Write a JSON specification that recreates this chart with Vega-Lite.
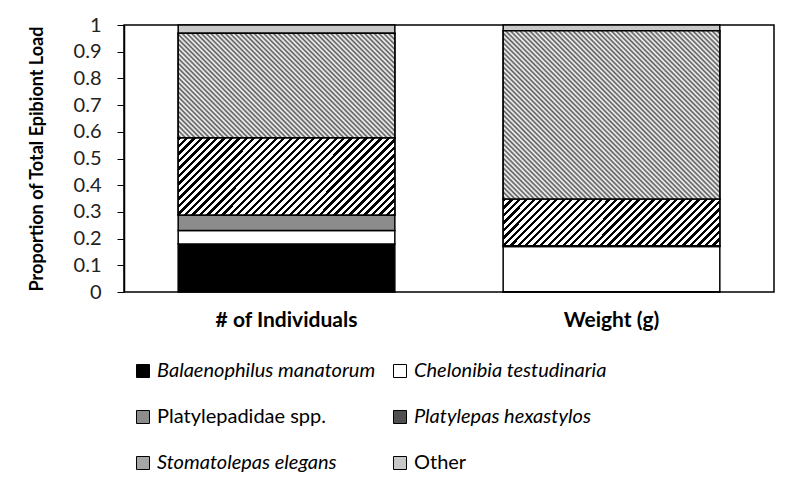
{
  "$schema": "https://vega.github.io/schema/vega-lite/v6.json",
  "width": 650,
  "height": 267,
  "autosize": {"type": "none"},
  "padding": {"left": 124, "top": 25, "right": 26, "bottom": 197},
  "background": "white",
  "config": {"view": {"stroke": "#000", "strokeWidth": 1.5}, "font": "Lato"},
  "data": {
    "values": [
      {"measure": "# of Individuals", "taxon": "Balaenophilus manatorum", "ord": 1, "proportion": 0.18},
      {"measure": "# of Individuals", "taxon": "Chelonibia testudinaria", "ord": 2, "proportion": 0.05},
      {"measure": "# of Individuals", "taxon": "Platylepadidae spp.", "ord": 3, "proportion": 0.058},
      {"measure": "# of Individuals", "taxon": "Platylepas hexastylos", "ord": 4, "proportion": 0.29},
      {"measure": "# of Individuals", "taxon": "Stomatolepas elegans", "ord": 5, "proportion": 0.391},
      {"measure": "# of Individuals", "taxon": "Other", "ord": 6, "proportion": 0.031},
      {"measure": "Weight (g)", "taxon": "Balaenophilus manatorum", "ord": 1, "proportion": 0.001},
      {"measure": "Weight (g)", "taxon": "Chelonibia testudinaria", "ord": 2, "proportion": 0.169},
      {"measure": "Weight (g)", "taxon": "Platylepadidae spp.", "ord": 3, "proportion": 0.003},
      {"measure": "Weight (g)", "taxon": "Platylepas hexastylos", "ord": 4, "proportion": 0.175},
      {"measure": "Weight (g)", "taxon": "Stomatolepas elegans", "ord": 5, "proportion": 0.63},
      {"measure": "Weight (g)", "taxon": "Other", "ord": 6, "proportion": 0.022}
    ]
  },
  "transform": [
    {"stack": "proportion", "groupby": ["measure"], "sort": [{"field": "ord", "order": "ascending"}], "as": ["lo", "hi"]}
  ],
  "encoding": {
    "x": {
      "field": "measure",
      "type": "nominal",
      "sort": ["# of Individuals", "Weight (g)"],
      "scale": {"paddingInner": 0.3333, "paddingOuter": 0.1667},
      "axis": {
        "title": null,
        "labelAngle": 0,
        "labelFontWeight": "bold",
        "labelFontSize": 21,
        "labelColor": "#000",
        "ticks": false,
        "domain": false,
        "labelPadding": 17
      }
    },
    "y": {
      "field": "lo",
      "type": "quantitative",
      "scale": {"domain": [0, 1], "nice": false},
      "axis": {
        "title": "Proportion of Total Epibiont Load",
        "titleFontSize": 18,
        "titleFontWeight": "bold",
        "titleColor": "#000",
        "titlePadding": 27,
        "values": [0, 0.1, 0.2, 0.3, 0.4, 0.5, 0.6, 0.7, 0.8, 0.9, 1],
        "format": ".1~f",
        "labelOverlap": false,
        "grid": false,
        "tickSize": 7,
        "tickColor": "#000",
        "tickWidth": 1,
        "domainColor": "#000",
        "domainWidth": 1.5,
        "labelFontSize": 20,
        "labelFontWeight": "normal",
        "labelColor": "#222",
        "labelPadding": 16
      }
    },
    "y2": {"field": "hi"}
  },
  "layer": [
    {
      "mark": {"type": "bar", "stroke": "#000", "strokeWidth": 1.5},
      "encoding": {
        "color": {
          "field": "taxon",
          "type": "nominal",
          "scale": {
            "domain": ["Balaenophilus manatorum", "Chelonibia testudinaria", "Platylepadidae spp.", "Platylepas hexastylos", "Stomatolepas elegans", "Other"],
            "range": ["#000000", "#ffffff", "#8c8c8c", "#505050", "#a6a6a6", "#c8c8c8"]
          },
          "legend": {
            "orient": "none",
            "legendX": 9,
            "legendY": 336,
            "title": null,
            "columns": 2,
            "direction": "horizontal",
            "labelFontSize": 20,
            "labelColor": "#000",
            "labelLimit": 400,
            "labelOffset": 4,
            "symbolType": "square",
            "symbolSize": 169,
            "symbolStrokeColor": "#000",
            "symbolStrokeWidth": 1,
            "symbolOpacity": 1,
            "rowPadding": 26,
            "columnPadding": 14,
            "encode": {
              "labels": {
                "update": {
                  "fontStyle": {"signal": "datum.value == 'Platylepadidae spp.' || datum.value == 'Other' ? 'normal' : 'italic'"}
                }
              }
            }
          }
        }
      }
    },
    {
      "transform": [{"filter": "datum.taxon == 'Platylepas hexastylos'"}],
      "mark": {"type": "bar", "stroke": "#000", "strokeWidth": 1.5},
      "encoding": {
        "fill": {
          "condition": {
            "test": "datum.measure == 'Weight (g)'",
            "value": {"gradient": "linear", "x1": 0, "y1": 0, "x2": 1.3202, "y2": 0.2841, "stops": [
              {"offset":0,"color":"#000"},{"offset":0.011,"color":"#000"},{"offset":0.011,"color":"#fff"},{"offset":0.025,"color":"#fff"},
              {"offset":0.025,"color":"#000"},{"offset":0.036,"color":"#000"},{"offset":0.036,"color":"#fff"},{"offset":0.05,"color":"#fff"},
              {"offset":0.05,"color":"#000"},{"offset":0.061,"color":"#000"},{"offset":0.061,"color":"#fff"},{"offset":0.075,"color":"#fff"},
              {"offset":0.075,"color":"#000"},{"offset":0.086,"color":"#000"},{"offset":0.086,"color":"#fff"},{"offset":0.1,"color":"#fff"},
              {"offset":0.1,"color":"#000"},{"offset":0.111,"color":"#000"},{"offset":0.111,"color":"#fff"},{"offset":0.125,"color":"#fff"},
              {"offset":0.125,"color":"#000"},{"offset":0.136,"color":"#000"},{"offset":0.136,"color":"#fff"},{"offset":0.15,"color":"#fff"},
              {"offset":0.15,"color":"#000"},{"offset":0.161,"color":"#000"},{"offset":0.161,"color":"#fff"},{"offset":0.175,"color":"#fff"},
              {"offset":0.175,"color":"#000"},{"offset":0.186,"color":"#000"},{"offset":0.186,"color":"#fff"},{"offset":0.2,"color":"#fff"},
              {"offset":0.2,"color":"#000"},{"offset":0.211,"color":"#000"},{"offset":0.211,"color":"#fff"},{"offset":0.225,"color":"#fff"},
              {"offset":0.225,"color":"#000"},{"offset":0.236,"color":"#000"},{"offset":0.236,"color":"#fff"},{"offset":0.25,"color":"#fff"},
              {"offset":0.25,"color":"#000"},{"offset":0.261,"color":"#000"},{"offset":0.261,"color":"#fff"},{"offset":0.275,"color":"#fff"},
              {"offset":0.275,"color":"#000"},{"offset":0.286,"color":"#000"},{"offset":0.286,"color":"#fff"},{"offset":0.3,"color":"#fff"},
              {"offset":0.3,"color":"#000"},{"offset":0.311,"color":"#000"},{"offset":0.311,"color":"#fff"},{"offset":0.325,"color":"#fff"},
              {"offset":0.325,"color":"#000"},{"offset":0.336,"color":"#000"},{"offset":0.336,"color":"#fff"},{"offset":0.35,"color":"#fff"},
              {"offset":0.35,"color":"#000"},{"offset":0.361,"color":"#000"},{"offset":0.361,"color":"#fff"},{"offset":0.375,"color":"#fff"},
              {"offset":0.375,"color":"#000"},{"offset":0.386,"color":"#000"},{"offset":0.386,"color":"#fff"},{"offset":0.4,"color":"#fff"},
              {"offset":0.4,"color":"#000"},{"offset":0.411,"color":"#000"},{"offset":0.411,"color":"#fff"},{"offset":0.425,"color":"#fff"},
              {"offset":0.425,"color":"#000"},{"offset":0.436,"color":"#000"},{"offset":0.436,"color":"#fff"},{"offset":0.45,"color":"#fff"},
              {"offset":0.45,"color":"#000"},{"offset":0.461,"color":"#000"},{"offset":0.461,"color":"#fff"},{"offset":0.475,"color":"#fff"},
              {"offset":0.475,"color":"#000"},{"offset":0.486,"color":"#000"},{"offset":0.486,"color":"#fff"},{"offset":0.5,"color":"#fff"},
              {"offset":0.5,"color":"#000"},{"offset":0.511,"color":"#000"},{"offset":0.511,"color":"#fff"},{"offset":0.525,"color":"#fff"},
              {"offset":0.525,"color":"#000"},{"offset":0.536,"color":"#000"},{"offset":0.536,"color":"#fff"},{"offset":0.55,"color":"#fff"},
              {"offset":0.55,"color":"#000"},{"offset":0.561,"color":"#000"},{"offset":0.561,"color":"#fff"},{"offset":0.575,"color":"#fff"},
              {"offset":0.575,"color":"#000"},{"offset":0.586,"color":"#000"},{"offset":0.586,"color":"#fff"},{"offset":0.6,"color":"#fff"},
              {"offset":0.6,"color":"#000"},{"offset":0.611,"color":"#000"},{"offset":0.611,"color":"#fff"},{"offset":0.625,"color":"#fff"},
              {"offset":0.625,"color":"#000"},{"offset":0.636,"color":"#000"},{"offset":0.636,"color":"#fff"},{"offset":0.65,"color":"#fff"},
              {"offset":0.65,"color":"#000"},{"offset":0.661,"color":"#000"},{"offset":0.661,"color":"#fff"},{"offset":0.675,"color":"#fff"},
              {"offset":0.675,"color":"#000"},{"offset":0.686,"color":"#000"},{"offset":0.686,"color":"#fff"},{"offset":0.7,"color":"#fff"},
              {"offset":0.7,"color":"#000"},{"offset":0.711,"color":"#000"},{"offset":0.711,"color":"#fff"},{"offset":0.725,"color":"#fff"},
              {"offset":0.725,"color":"#000"},{"offset":0.736,"color":"#000"},{"offset":0.736,"color":"#fff"},{"offset":0.75,"color":"#fff"},
              {"offset":0.75,"color":"#000"},{"offset":0.761,"color":"#000"},{"offset":0.761,"color":"#fff"},{"offset":0.775,"color":"#fff"},
              {"offset":0.775,"color":"#000"},{"offset":0.786,"color":"#000"},{"offset":0.786,"color":"#fff"},{"offset":0.8,"color":"#fff"},
              {"offset":0.8,"color":"#000"},{"offset":0.811,"color":"#000"},{"offset":0.811,"color":"#fff"},{"offset":0.825,"color":"#fff"},
              {"offset":0.825,"color":"#000"},{"offset":0.836,"color":"#000"},{"offset":0.836,"color":"#fff"},{"offset":0.85,"color":"#fff"},
              {"offset":0.85,"color":"#000"},{"offset":0.861,"color":"#000"},{"offset":0.861,"color":"#fff"},{"offset":0.875,"color":"#fff"},
              {"offset":0.875,"color":"#000"},{"offset":0.886,"color":"#000"},{"offset":0.886,"color":"#fff"},{"offset":0.9,"color":"#fff"},
              {"offset":0.9,"color":"#000"},{"offset":0.911,"color":"#000"},{"offset":0.911,"color":"#fff"},{"offset":0.925,"color":"#fff"},
              {"offset":0.925,"color":"#000"},{"offset":0.936,"color":"#000"},{"offset":0.936,"color":"#fff"},{"offset":0.95,"color":"#fff"},
              {"offset":0.95,"color":"#000"},{"offset":0.961,"color":"#000"},{"offset":0.961,"color":"#fff"},{"offset":0.975,"color":"#fff"},
              {"offset":0.975,"color":"#000"},{"offset":0.986,"color":"#000"},{"offset":0.986,"color":"#fff"},{"offset":1,"color":"#fff"}
            ]}
          },
          "value": {"gradient": "linear", "x1": 0, "y1": 0, "x2": 1.2256, "y2": 0.4372, "stops": [
              {"offset":0,"color":"#000"},{"offset":0.011,"color":"#000"},{"offset":0.011,"color":"#fff"},{"offset":0.025,"color":"#fff"},
              {"offset":0.025,"color":"#000"},{"offset":0.036,"color":"#000"},{"offset":0.036,"color":"#fff"},{"offset":0.05,"color":"#fff"},
              {"offset":0.05,"color":"#000"},{"offset":0.061,"color":"#000"},{"offset":0.061,"color":"#fff"},{"offset":0.075,"color":"#fff"},
              {"offset":0.075,"color":"#000"},{"offset":0.086,"color":"#000"},{"offset":0.086,"color":"#fff"},{"offset":0.1,"color":"#fff"},
              {"offset":0.1,"color":"#000"},{"offset":0.111,"color":"#000"},{"offset":0.111,"color":"#fff"},{"offset":0.125,"color":"#fff"},
              {"offset":0.125,"color":"#000"},{"offset":0.136,"color":"#000"},{"offset":0.136,"color":"#fff"},{"offset":0.15,"color":"#fff"},
              {"offset":0.15,"color":"#000"},{"offset":0.161,"color":"#000"},{"offset":0.161,"color":"#fff"},{"offset":0.175,"color":"#fff"},
              {"offset":0.175,"color":"#000"},{"offset":0.186,"color":"#000"},{"offset":0.186,"color":"#fff"},{"offset":0.2,"color":"#fff"},
              {"offset":0.2,"color":"#000"},{"offset":0.211,"color":"#000"},{"offset":0.211,"color":"#fff"},{"offset":0.225,"color":"#fff"},
              {"offset":0.225,"color":"#000"},{"offset":0.236,"color":"#000"},{"offset":0.236,"color":"#fff"},{"offset":0.25,"color":"#fff"},
              {"offset":0.25,"color":"#000"},{"offset":0.261,"color":"#000"},{"offset":0.261,"color":"#fff"},{"offset":0.275,"color":"#fff"},
              {"offset":0.275,"color":"#000"},{"offset":0.286,"color":"#000"},{"offset":0.286,"color":"#fff"},{"offset":0.3,"color":"#fff"},
              {"offset":0.3,"color":"#000"},{"offset":0.311,"color":"#000"},{"offset":0.311,"color":"#fff"},{"offset":0.325,"color":"#fff"},
              {"offset":0.325,"color":"#000"},{"offset":0.336,"color":"#000"},{"offset":0.336,"color":"#fff"},{"offset":0.35,"color":"#fff"},
              {"offset":0.35,"color":"#000"},{"offset":0.361,"color":"#000"},{"offset":0.361,"color":"#fff"},{"offset":0.375,"color":"#fff"},
              {"offset":0.375,"color":"#000"},{"offset":0.386,"color":"#000"},{"offset":0.386,"color":"#fff"},{"offset":0.4,"color":"#fff"},
              {"offset":0.4,"color":"#000"},{"offset":0.411,"color":"#000"},{"offset":0.411,"color":"#fff"},{"offset":0.425,"color":"#fff"},
              {"offset":0.425,"color":"#000"},{"offset":0.436,"color":"#000"},{"offset":0.436,"color":"#fff"},{"offset":0.45,"color":"#fff"},
              {"offset":0.45,"color":"#000"},{"offset":0.461,"color":"#000"},{"offset":0.461,"color":"#fff"},{"offset":0.475,"color":"#fff"},
              {"offset":0.475,"color":"#000"},{"offset":0.486,"color":"#000"},{"offset":0.486,"color":"#fff"},{"offset":0.5,"color":"#fff"},
              {"offset":0.5,"color":"#000"},{"offset":0.511,"color":"#000"},{"offset":0.511,"color":"#fff"},{"offset":0.525,"color":"#fff"},
              {"offset":0.525,"color":"#000"},{"offset":0.536,"color":"#000"},{"offset":0.536,"color":"#fff"},{"offset":0.55,"color":"#fff"},
              {"offset":0.55,"color":"#000"},{"offset":0.561,"color":"#000"},{"offset":0.561,"color":"#fff"},{"offset":0.575,"color":"#fff"},
              {"offset":0.575,"color":"#000"},{"offset":0.586,"color":"#000"},{"offset":0.586,"color":"#fff"},{"offset":0.6,"color":"#fff"},
              {"offset":0.6,"color":"#000"},{"offset":0.611,"color":"#000"},{"offset":0.611,"color":"#fff"},{"offset":0.625,"color":"#fff"},
              {"offset":0.625,"color":"#000"},{"offset":0.636,"color":"#000"},{"offset":0.636,"color":"#fff"},{"offset":0.65,"color":"#fff"},
              {"offset":0.65,"color":"#000"},{"offset":0.661,"color":"#000"},{"offset":0.661,"color":"#fff"},{"offset":0.675,"color":"#fff"},
              {"offset":0.675,"color":"#000"},{"offset":0.686,"color":"#000"},{"offset":0.686,"color":"#fff"},{"offset":0.7,"color":"#fff"},
              {"offset":0.7,"color":"#000"},{"offset":0.711,"color":"#000"},{"offset":0.711,"color":"#fff"},{"offset":0.725,"color":"#fff"},
              {"offset":0.725,"color":"#000"},{"offset":0.736,"color":"#000"},{"offset":0.736,"color":"#fff"},{"offset":0.75,"color":"#fff"},
              {"offset":0.75,"color":"#000"},{"offset":0.761,"color":"#000"},{"offset":0.761,"color":"#fff"},{"offset":0.775,"color":"#fff"},
              {"offset":0.775,"color":"#000"},{"offset":0.786,"color":"#000"},{"offset":0.786,"color":"#fff"},{"offset":0.8,"color":"#fff"},
              {"offset":0.8,"color":"#000"},{"offset":0.811,"color":"#000"},{"offset":0.811,"color":"#fff"},{"offset":0.825,"color":"#fff"},
              {"offset":0.825,"color":"#000"},{"offset":0.836,"color":"#000"},{"offset":0.836,"color":"#fff"},{"offset":0.85,"color":"#fff"},
              {"offset":0.85,"color":"#000"},{"offset":0.861,"color":"#000"},{"offset":0.861,"color":"#fff"},{"offset":0.875,"color":"#fff"},
              {"offset":0.875,"color":"#000"},{"offset":0.886,"color":"#000"},{"offset":0.886,"color":"#fff"},{"offset":0.9,"color":"#fff"},
              {"offset":0.9,"color":"#000"},{"offset":0.911,"color":"#000"},{"offset":0.911,"color":"#fff"},{"offset":0.925,"color":"#fff"},
              {"offset":0.925,"color":"#000"},{"offset":0.936,"color":"#000"},{"offset":0.936,"color":"#fff"},{"offset":0.95,"color":"#fff"},
              {"offset":0.95,"color":"#000"},{"offset":0.961,"color":"#000"},{"offset":0.961,"color":"#fff"},{"offset":0.975,"color":"#fff"},
              {"offset":0.975,"color":"#000"},{"offset":0.986,"color":"#000"},{"offset":0.986,"color":"#fff"},{"offset":1,"color":"#fff"}
          ]}
        }
      }
    },
    {
      "transform": [{"filter": "datum.taxon == 'Stomatolepas elegans'"}],
      "mark": {"type": "bar", "stroke": "#000", "strokeWidth": 1.5},
      "encoding": {
        "fill": {
          "condition": {
            "test": "datum.measure == 'Weight (g)'",
            "value": {"gradient": "linear", "x1": 0, "y1": 1, "x2": 1.1074, "y2": 0.1417, "stops": [
              {"offset":0,"color":"#fff"},{"offset":0.00625,"color":"#555"},{"offset":0.0125,"color":"#fff"},{"offset":0.01875,"color":"#555"},{"offset":0.025,"color":"#fff"},{"offset":0.03125,"color":"#555"},{"offset":0.0375,"color":"#fff"},{"offset":0.04375,"color":"#555"},
              {"offset":0.05,"color":"#fff"},{"offset":0.05625,"color":"#555"},{"offset":0.0625,"color":"#fff"},{"offset":0.06875,"color":"#555"},{"offset":0.075,"color":"#fff"},{"offset":0.08125,"color":"#555"},{"offset":0.0875,"color":"#fff"},{"offset":0.09375,"color":"#555"},
              {"offset":0.1,"color":"#fff"},{"offset":0.10625,"color":"#555"},{"offset":0.1125,"color":"#fff"},{"offset":0.11875,"color":"#555"},{"offset":0.125,"color":"#fff"},{"offset":0.13125,"color":"#555"},{"offset":0.1375,"color":"#fff"},{"offset":0.14375,"color":"#555"},
              {"offset":0.15,"color":"#fff"},{"offset":0.15625,"color":"#555"},{"offset":0.1625,"color":"#fff"},{"offset":0.16875,"color":"#555"},{"offset":0.175,"color":"#fff"},{"offset":0.18125,"color":"#555"},{"offset":0.1875,"color":"#fff"},{"offset":0.19375,"color":"#555"},
              {"offset":0.2,"color":"#fff"},{"offset":0.20625,"color":"#555"},{"offset":0.2125,"color":"#fff"},{"offset":0.21875,"color":"#555"},{"offset":0.225,"color":"#fff"},{"offset":0.23125,"color":"#555"},{"offset":0.2375,"color":"#fff"},{"offset":0.24375,"color":"#555"},
              {"offset":0.25,"color":"#fff"},{"offset":0.25625,"color":"#555"},{"offset":0.2625,"color":"#fff"},{"offset":0.26875,"color":"#555"},{"offset":0.275,"color":"#fff"},{"offset":0.28125,"color":"#555"},{"offset":0.2875,"color":"#fff"},{"offset":0.29375,"color":"#555"},
              {"offset":0.3,"color":"#fff"},{"offset":0.30625,"color":"#555"},{"offset":0.3125,"color":"#fff"},{"offset":0.31875,"color":"#555"},{"offset":0.325,"color":"#fff"},{"offset":0.33125,"color":"#555"},{"offset":0.3375,"color":"#fff"},{"offset":0.34375,"color":"#555"},
              {"offset":0.35,"color":"#fff"},{"offset":0.35625,"color":"#555"},{"offset":0.3625,"color":"#fff"},{"offset":0.36875,"color":"#555"},{"offset":0.375,"color":"#fff"},{"offset":0.38125,"color":"#555"},{"offset":0.3875,"color":"#fff"},{"offset":0.39375,"color":"#555"},
              {"offset":0.4,"color":"#fff"},{"offset":0.40625,"color":"#555"},{"offset":0.4125,"color":"#fff"},{"offset":0.41875,"color":"#555"},{"offset":0.425,"color":"#fff"},{"offset":0.43125,"color":"#555"},{"offset":0.4375,"color":"#fff"},{"offset":0.44375,"color":"#555"},
              {"offset":0.45,"color":"#fff"},{"offset":0.45625,"color":"#555"},{"offset":0.4625,"color":"#fff"},{"offset":0.46875,"color":"#555"},{"offset":0.475,"color":"#fff"},{"offset":0.48125,"color":"#555"},{"offset":0.4875,"color":"#fff"},{"offset":0.49375,"color":"#555"},
              {"offset":0.5,"color":"#fff"},{"offset":0.50625,"color":"#555"},{"offset":0.5125,"color":"#fff"},{"offset":0.51875,"color":"#555"},{"offset":0.525,"color":"#fff"},{"offset":0.53125,"color":"#555"},{"offset":0.5375,"color":"#fff"},{"offset":0.54375,"color":"#555"},
              {"offset":0.55,"color":"#fff"},{"offset":0.55625,"color":"#555"},{"offset":0.5625,"color":"#fff"},{"offset":0.56875,"color":"#555"},{"offset":0.575,"color":"#fff"},{"offset":0.58125,"color":"#555"},{"offset":0.5875,"color":"#fff"},{"offset":0.59375,"color":"#555"},
              {"offset":0.6,"color":"#fff"},{"offset":0.60625,"color":"#555"},{"offset":0.6125,"color":"#fff"},{"offset":0.61875,"color":"#555"},{"offset":0.625,"color":"#fff"},{"offset":0.63125,"color":"#555"},{"offset":0.6375,"color":"#fff"},{"offset":0.64375,"color":"#555"},
              {"offset":0.65,"color":"#fff"},{"offset":0.65625,"color":"#555"},{"offset":0.6625,"color":"#fff"},{"offset":0.66875,"color":"#555"},{"offset":0.675,"color":"#fff"},{"offset":0.68125,"color":"#555"},{"offset":0.6875,"color":"#fff"},{"offset":0.69375,"color":"#555"},
              {"offset":0.7,"color":"#fff"},{"offset":0.70625,"color":"#555"},{"offset":0.7125,"color":"#fff"},{"offset":0.71875,"color":"#555"},{"offset":0.725,"color":"#fff"},{"offset":0.73125,"color":"#555"},{"offset":0.7375,"color":"#fff"},{"offset":0.74375,"color":"#555"},
              {"offset":0.75,"color":"#fff"},{"offset":0.75625,"color":"#555"},{"offset":0.7625,"color":"#fff"},{"offset":0.76875,"color":"#555"},{"offset":0.775,"color":"#fff"},{"offset":0.78125,"color":"#555"},{"offset":0.7875,"color":"#fff"},{"offset":0.79375,"color":"#555"},
              {"offset":0.8,"color":"#fff"},{"offset":0.80625,"color":"#555"},{"offset":0.8125,"color":"#fff"},{"offset":0.81875,"color":"#555"},{"offset":0.825,"color":"#fff"},{"offset":0.83125,"color":"#555"},{"offset":0.8375,"color":"#fff"},{"offset":0.84375,"color":"#555"},
              {"offset":0.85,"color":"#fff"},{"offset":0.85625,"color":"#555"},{"offset":0.8625,"color":"#fff"},{"offset":0.86875,"color":"#555"},{"offset":0.875,"color":"#fff"},{"offset":0.88125,"color":"#555"},{"offset":0.8875,"color":"#fff"},{"offset":0.89375,"color":"#555"},
              {"offset":0.9,"color":"#fff"},{"offset":0.90625,"color":"#555"},{"offset":0.9125,"color":"#fff"},{"offset":0.91875,"color":"#555"},{"offset":0.925,"color":"#fff"},{"offset":0.93125,"color":"#555"},{"offset":0.9375,"color":"#fff"},{"offset":0.94375,"color":"#555"},
              {"offset":0.95,"color":"#fff"},{"offset":0.95625,"color":"#555"},{"offset":0.9625,"color":"#fff"},{"offset":0.96875,"color":"#555"},{"offset":0.975,"color":"#fff"},{"offset":0.98125,"color":"#555"},{"offset":0.9875,"color":"#fff"},{"offset":0.99375,"color":"#555"},
              {"offset":1,"color":"#fff"}
            ]}
          },
          "value": {"gradient": "linear", "x1": 0, "y1": 1, "x2": 1.4395, "y2": 0.3075, "stops": [
              {"offset":0,"color":"#fff"},{"offset":0.00625,"color":"#555"},{"offset":0.0125,"color":"#fff"},{"offset":0.01875,"color":"#555"},{"offset":0.025,"color":"#fff"},{"offset":0.03125,"color":"#555"},{"offset":0.0375,"color":"#fff"},{"offset":0.04375,"color":"#555"},
              {"offset":0.05,"color":"#fff"},{"offset":0.05625,"color":"#555"},{"offset":0.0625,"color":"#fff"},{"offset":0.06875,"color":"#555"},{"offset":0.075,"color":"#fff"},{"offset":0.08125,"color":"#555"},{"offset":0.0875,"color":"#fff"},{"offset":0.09375,"color":"#555"},
              {"offset":0.1,"color":"#fff"},{"offset":0.10625,"color":"#555"},{"offset":0.1125,"color":"#fff"},{"offset":0.11875,"color":"#555"},{"offset":0.125,"color":"#fff"},{"offset":0.13125,"color":"#555"},{"offset":0.1375,"color":"#fff"},{"offset":0.14375,"color":"#555"},
              {"offset":0.15,"color":"#fff"},{"offset":0.15625,"color":"#555"},{"offset":0.1625,"color":"#fff"},{"offset":0.16875,"color":"#555"},{"offset":0.175,"color":"#fff"},{"offset":0.18125,"color":"#555"},{"offset":0.1875,"color":"#fff"},{"offset":0.19375,"color":"#555"},
              {"offset":0.2,"color":"#fff"},{"offset":0.20625,"color":"#555"},{"offset":0.2125,"color":"#fff"},{"offset":0.21875,"color":"#555"},{"offset":0.225,"color":"#fff"},{"offset":0.23125,"color":"#555"},{"offset":0.2375,"color":"#fff"},{"offset":0.24375,"color":"#555"},
              {"offset":0.25,"color":"#fff"},{"offset":0.25625,"color":"#555"},{"offset":0.2625,"color":"#fff"},{"offset":0.26875,"color":"#555"},{"offset":0.275,"color":"#fff"},{"offset":0.28125,"color":"#555"},{"offset":0.2875,"color":"#fff"},{"offset":0.29375,"color":"#555"},
              {"offset":0.3,"color":"#fff"},{"offset":0.30625,"color":"#555"},{"offset":0.3125,"color":"#fff"},{"offset":0.31875,"color":"#555"},{"offset":0.325,"color":"#fff"},{"offset":0.33125,"color":"#555"},{"offset":0.3375,"color":"#fff"},{"offset":0.34375,"color":"#555"},
              {"offset":0.35,"color":"#fff"},{"offset":0.35625,"color":"#555"},{"offset":0.3625,"color":"#fff"},{"offset":0.36875,"color":"#555"},{"offset":0.375,"color":"#fff"},{"offset":0.38125,"color":"#555"},{"offset":0.3875,"color":"#fff"},{"offset":0.39375,"color":"#555"},
              {"offset":0.4,"color":"#fff"},{"offset":0.40625,"color":"#555"},{"offset":0.4125,"color":"#fff"},{"offset":0.41875,"color":"#555"},{"offset":0.425,"color":"#fff"},{"offset":0.43125,"color":"#555"},{"offset":0.4375,"color":"#fff"},{"offset":0.44375,"color":"#555"},
              {"offset":0.45,"color":"#fff"},{"offset":0.45625,"color":"#555"},{"offset":0.4625,"color":"#fff"},{"offset":0.46875,"color":"#555"},{"offset":0.475,"color":"#fff"},{"offset":0.48125,"color":"#555"},{"offset":0.4875,"color":"#fff"},{"offset":0.49375,"color":"#555"},
              {"offset":0.5,"color":"#fff"},{"offset":0.50625,"color":"#555"},{"offset":0.5125,"color":"#fff"},{"offset":0.51875,"color":"#555"},{"offset":0.525,"color":"#fff"},{"offset":0.53125,"color":"#555"},{"offset":0.5375,"color":"#fff"},{"offset":0.54375,"color":"#555"},
              {"offset":0.55,"color":"#fff"},{"offset":0.55625,"color":"#555"},{"offset":0.5625,"color":"#fff"},{"offset":0.56875,"color":"#555"},{"offset":0.575,"color":"#fff"},{"offset":0.58125,"color":"#555"},{"offset":0.5875,"color":"#fff"},{"offset":0.59375,"color":"#555"},
              {"offset":0.6,"color":"#fff"},{"offset":0.60625,"color":"#555"},{"offset":0.6125,"color":"#fff"},{"offset":0.61875,"color":"#555"},{"offset":0.625,"color":"#fff"},{"offset":0.63125,"color":"#555"},{"offset":0.6375,"color":"#fff"},{"offset":0.64375,"color":"#555"},
              {"offset":0.65,"color":"#fff"},{"offset":0.65625,"color":"#555"},{"offset":0.6625,"color":"#fff"},{"offset":0.66875,"color":"#555"},{"offset":0.675,"color":"#fff"},{"offset":0.68125,"color":"#555"},{"offset":0.6875,"color":"#fff"},{"offset":0.69375,"color":"#555"},
              {"offset":0.7,"color":"#fff"},{"offset":0.70625,"color":"#555"},{"offset":0.7125,"color":"#fff"},{"offset":0.71875,"color":"#555"},{"offset":0.725,"color":"#fff"},{"offset":0.73125,"color":"#555"},{"offset":0.7375,"color":"#fff"},{"offset":0.74375,"color":"#555"},
              {"offset":0.75,"color":"#fff"},{"offset":0.75625,"color":"#555"},{"offset":0.7625,"color":"#fff"},{"offset":0.76875,"color":"#555"},{"offset":0.775,"color":"#fff"},{"offset":0.78125,"color":"#555"},{"offset":0.7875,"color":"#fff"},{"offset":0.79375,"color":"#555"},
              {"offset":0.8,"color":"#fff"},{"offset":0.80625,"color":"#555"},{"offset":0.8125,"color":"#fff"},{"offset":0.81875,"color":"#555"},{"offset":0.825,"color":"#fff"},{"offset":0.83125,"color":"#555"},{"offset":0.8375,"color":"#fff"},{"offset":0.84375,"color":"#555"},
              {"offset":0.85,"color":"#fff"},{"offset":0.85625,"color":"#555"},{"offset":0.8625,"color":"#fff"},{"offset":0.86875,"color":"#555"},{"offset":0.875,"color":"#fff"},{"offset":0.88125,"color":"#555"},{"offset":0.8875,"color":"#fff"},{"offset":0.89375,"color":"#555"},
              {"offset":0.9,"color":"#fff"},{"offset":0.90625,"color":"#555"},{"offset":0.9125,"color":"#fff"},{"offset":0.91875,"color":"#555"},{"offset":0.925,"color":"#fff"},{"offset":0.93125,"color":"#555"},{"offset":0.9375,"color":"#fff"},{"offset":0.94375,"color":"#555"},
              {"offset":0.95,"color":"#fff"},{"offset":0.95625,"color":"#555"},{"offset":0.9625,"color":"#fff"},{"offset":0.96875,"color":"#555"},{"offset":0.975,"color":"#fff"},{"offset":0.98125,"color":"#555"},{"offset":0.9875,"color":"#fff"},{"offset":0.99375,"color":"#555"},
              {"offset":1,"color":"#fff"}
          ]}
        }
      }
    }
  ]
}
